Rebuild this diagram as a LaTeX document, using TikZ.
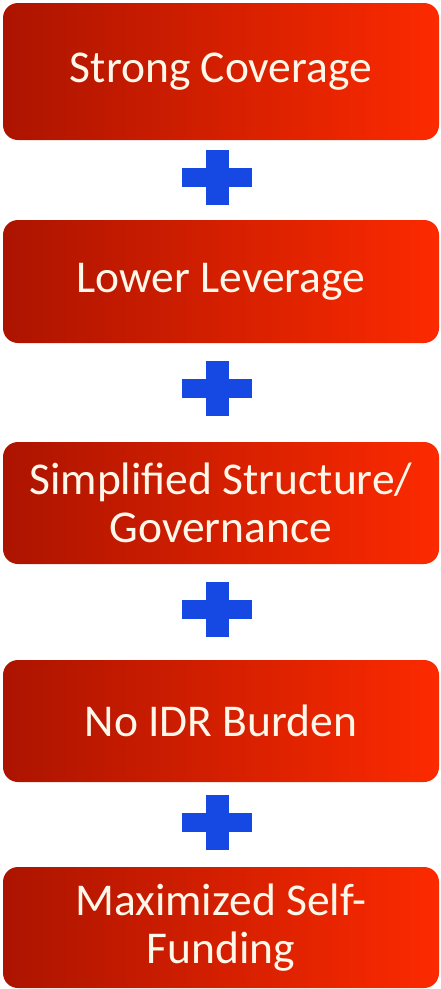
\documentclass[tikz,border=0pt]{standalone}
\usepackage{fontspec}
\setmainfont{Carlito}
\usetikzlibrary{positioning,shadings}
\definecolor{boxdark}{RGB}{172,20,0}
\definecolor{boxmid}{RGB}{226,36,0}
\definecolor{boxlight}{RGB}{252,42,0}
\definecolor{plusblue}{RGB}{22,72,228}
\definecolor{textcream}{RGB}{255,248,234}
\tikzset{
  stepbox/.style={rounded corners=15pt, left color=boxdark, middle color=boxmid, right color=boxlight, draw=none,
    text=textcream, minimum width=436pt, align=center, inner sep=0pt,
    font=\fontsize{45.5}{48}\selectfont},
  hbar/.style={fill=plusblue, draw=none, inner sep=0pt, minimum width=70pt, minimum height=19pt},
  vbar/.style={fill=plusblue, draw=none, inner sep=0pt, minimum width=23pt, minimum height=55pt}
}

\begin{document}
\begin{tikzpicture}[x=1pt, y=-1pt]
    \useasboundingbox (0,0) rectangle (440,989);

    \node[stepbox, minimum height=137pt] (cover) at (221,71.5)  {Strong Coverage};
    \node[stepbox, minimum height=123pt] (lever) at (221,281.5) {Lower Leverage};
    \node[stepbox, minimum height=122pt] (struct) at (221,503)  {Simplified Structure/\\Governance};
    \node[stepbox, minimum height=122pt] (idr) at (221,721)     {No IDR Burden};
    \node[stepbox, minimum height=121pt] (fund) at (221,927.5)  {Maximized Self-\\Funding};

    \node[hbar] (plusA) at (217,177.5) {};  \node[vbar] (plusAv) at (plusA) {};
    \node[hbar] (plusB) at (217,388.5) {};  \node[vbar] (plusBv) at (plusB) {};
    \node[hbar] (plusC) at (217,609.5) {};  \node[vbar] (plusCv) at (plusC) {};
    \node[hbar] (plusD) at (217,822.5) {};  \node[vbar] (plusDv) at (plusD) {};
  \end{tikzpicture}
\end{document}
